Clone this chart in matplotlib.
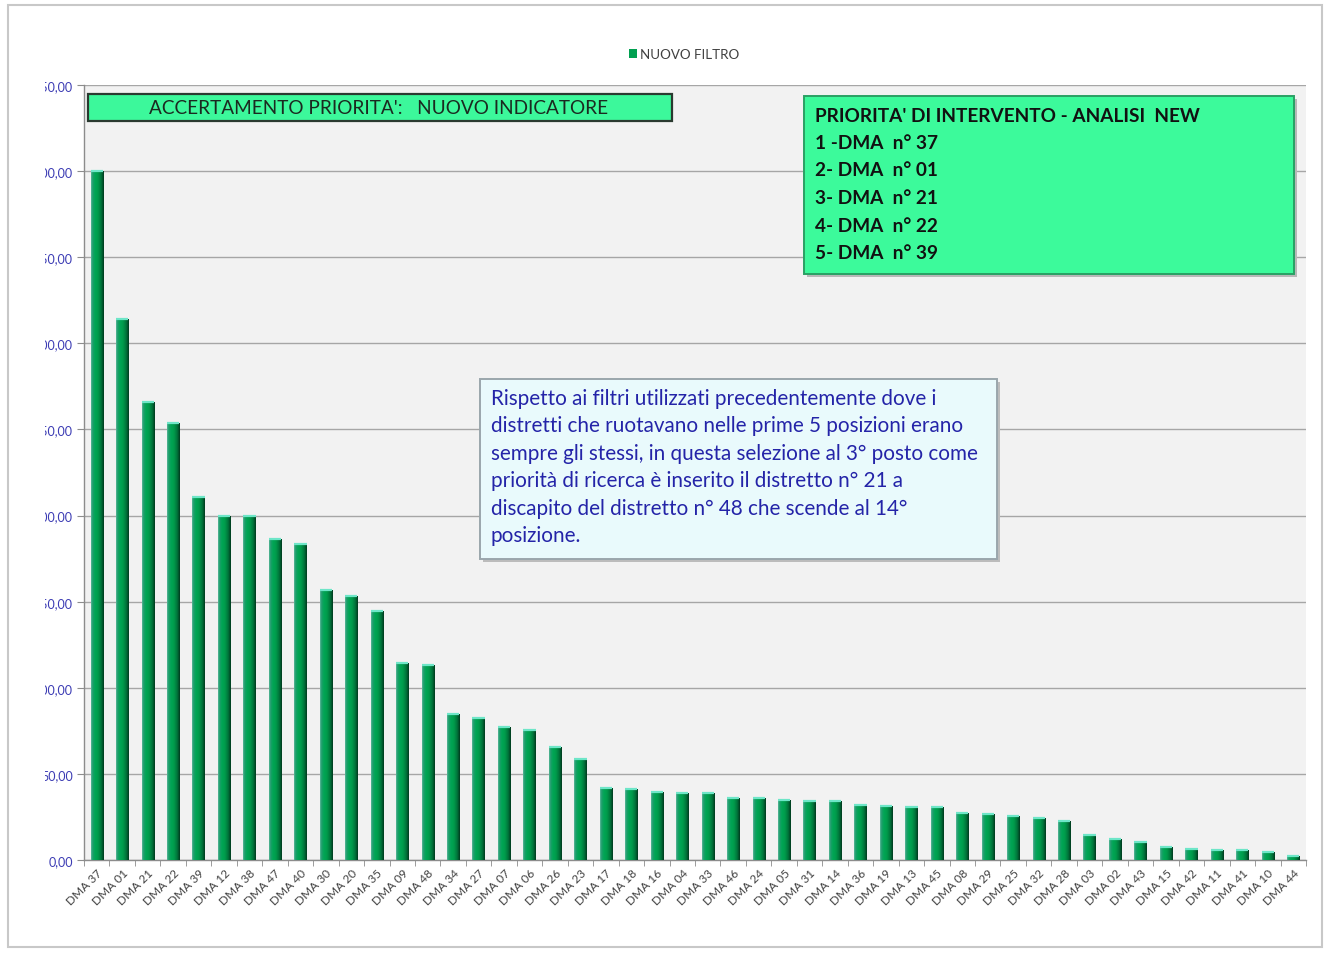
import numpy as np
import matplotlib
matplotlib.use("Agg")
import matplotlib.pyplot as plt
from matplotlib.patches import Rectangle
from matplotlib.colors import LinearSegmentedColormap
from matplotlib.transforms import Bbox

# ---- data -------------------------------------------------------------
districts = ["DMA 37", "DMA 01", "DMA 21", "DMA 22", "DMA 39", "DMA 12", "DMA 38", "DMA 47",
             "DMA 40", "DMA 30", "DMA 20", "DMA 35", "DMA 09", "DMA 48", "DMA 34", "DMA 27",
             "DMA 07", "DMA 06", "DMA 26", "DMA 23", "DMA 17", "DMA 18", "DMA 16", "DMA 04",
             "DMA 33", "DMA 46", "DMA 24", "DMA 05", "DMA 31", "DMA 14", "DMA 36", "DMA 19",
             "DMA 13", "DMA 45", "DMA 08", "DMA 29", "DMA 25", "DMA 32", "DMA 28", "DMA 03",
             "DMA 02", "DMA 43", "DMA 15", "DMA 42", "DMA 11", "DMA 41", "DMA 10", "DMA 44"]
nuovo_filtro = [400.0, 314.0, 266.0, 253.5, 211.0, 200.0, 200.0, 186.5,
                183.5, 157.0, 153.5, 144.5, 114.5, 113.0, 85.0, 82.5,
                77.0, 75.5, 65.5, 58.5, 41.8, 41.0, 39.6, 39.0,
                39.0, 36.0, 36.0, 34.7, 34.2, 34.2, 31.9, 31.3,
                30.6, 30.6, 27.2, 26.6, 25.5, 24.4, 22.6, 14.7,
                12.1, 10.6, 7.4, 6.2, 5.8, 5.8, 4.6, 2.1]
y_ticks = [0, 50, 100, 150, 200, 250, 300, 350, 400, 450]
series_name = "NUOVO FILTRO"

title_box = "ACCERTAMENTO PRIORITA':   NUOVO INDICATORE"
ranking_lines = ["PRIORITA' DI INTERVENTO - ANALISI  NEW",
                 "1 -DMA  n° 37",
                 "2- DMA  n° 01",
                 "3- DMA  n° 21",
                 "4- DMA  n° 22",
                 "5- DMA  n° 39"]
note_lines = ["Rispetto ai filtri utilizzati precedentemente dove i",
              "distretti che ruotavano nelle prime 5 posizioni erano",
              "sempre gli stessi, in questa selezione al 3° posto come",
              "priorità di ricerca è inserito il distretto n° 21 a",
              "discapito del distretto n° 48 che scende al 14°",
              "posizione."]

# ---- figure -------------------------------------------------------------
W, H = 1328, 954
fig = plt.figure(figsize=(W / 100, H / 100), dpi=100)
fig.patch.set_facecolor("white")
FONT = ["Lato", "DejaVu Sans"]


def fx(x):
    return x / W


def fy(y):
    return 1 - y / H


# outer frame of the chart object
fig.patches.append(Rectangle((fx(8), fy(948)), fx(1322) - fx(8), fy(6) - fy(948),
                             transform=fig.transFigure, fill=False,
                             edgecolor="#c8c8c8", linewidth=1.5, zorder=0))

ax = fig.add_axes([fx(84), fy(861), fx(1306) - fx(84), fy(86) - fy(861)])
ax.set_facecolor("#f2f2f2")

x = np.arange(len(districts))
bar_w = 0.48
bars = ax.bar(x, nuovo_filtro, width=bar_w, color="#00a050", label=series_name,
              zorder=3, linewidth=0)

# cylindrical-looking shading across each bar
shade = LinearSegmentedColormap.from_list(
    "shade", [(0.0, "#5bb89a"), (0.12, "#1f9d6c"), (0.3, "#00a655"),
              (0.55, "#009a4b"), (0.8, "#00723a"), (1.0, "#003a1e")])
grad = np.linspace(0, 1, 64).reshape(1, -1)
for rect in bars:
    x0 = rect.get_x()
    h = rect.get_height()
    im = ax.imshow(grad, cmap=shade, aspect="auto", extent=(x0, x0 + bar_w, 0, h),
                   origin="lower", zorder=4, interpolation="bilinear")
    im.set_clip_path(rect)
# light bevel on bar tops
ax.hlines(nuovo_filtro, x - bar_w / 2, x + bar_w / 2, colors="#6ee6c8",
          linewidth=1.6, zorder=5)

ax.set_xlim(-0.5, len(districts) - 0.5)
ax.set_ylim(0, 450)

# gridlines
ax.set_yticks(y_ticks)
ax.set_yticklabels([f"{v:.2f}".replace(".", ",") for v in y_ticks])
ax.yaxis.grid(True, color="#a6a6a6", linewidth=1.0, zorder=1)
ax.set_axisbelow(True)

# categories
ax.set_xticks(x)
ax.set_xticklabels(districts, rotation=45, ha="right", rotation_mode="anchor",
                   fontsize=8.6, color="#404040", family=FONT)
ax.set_xticks(np.arange(-0.5, len(districts), 1.0), minor=True)
ax.tick_params(axis="x", which="major", length=0, pad=5)
ax.tick_params(axis="x", which="minor", length=4, color="#8c8c8c", direction="out")
ax.tick_params(axis="y", length=5, color="#8c8c8c", labelsize=9,
               labelcolor="#3c3cb4", pad=3)
for lab in ax.get_yticklabels():
    lab.set_family(FONT)

for side in ("top", "right"):
    ax.spines[side].set_visible(False)
for side in ("left", "bottom"):
    ax.spines[side].set_color("#8c8c8c")
    ax.spines[side].set_linewidth(1.0)

# value labels cut by the chart's left margin
clip = Bbox.from_extents(45, 0, W, H)
for tick in ax.yaxis.get_major_ticks():
    tick.label1.set_clip_box(clip)
    tick.label1.set_clip_on(True)

# legend
leg = fig.legend(handles=[Rectangle((0, 0), 1, 1, facecolor="#00a050", edgecolor="none")],
                 labels=[series_name], loc="center", bbox_to_anchor=(fx(684), fy(55)),
                 frameon=False, handlelength=0.65, handleheight=0.65, handletextpad=0.2,
                 prop={"family": FONT, "size": 9.6})
for t in leg.get_texts():
    t.set_color("#404040")


# ---- text boxes ---------------------------------------------------------
def box(x0, y0, x1, y1, face, edge, lw, shadow=None):
    if shadow:
        fig.patches.append(Rectangle((fx(x0 + 3), fy(y1 + 3)), fx(x1) - fx(x0), fy(y0) - fy(y1),
                                     transform=fig.transFigure, facecolor=shadow,
                                     edgecolor="none", zorder=6))
    fig.patches.append(Rectangle((fx(x0), fy(y1)), fx(x1) - fx(x0), fy(y0) - fy(y1),
                                 transform=fig.transFigure, facecolor=face,
                                 edgecolor=edge, linewidth=lw, zorder=7))


box(88, 95, 672, 122, "#3cf89b", "#2a3a30", 1.6)
fig.text(fx(379), fy(108.5), title_box, ha="center", va="center", fontsize=13.7,
         color="#1b2a20", family=FONT, zorder=8)

box(804, 97, 1294, 275, "#3cfa9b", "#2aa064", 1.4, shadow="#b8b8b8")
for i, line in enumerate(ranking_lines):
    fig.text(fx(815), fy(116 + i * 27.5), line, ha="left", va="center", fontsize=13.7,
             color="#111111", fontweight="bold", family=FONT, zorder=8)

box(480, 380, 997, 560, "#e9fafc", "#9aa6ac", 1.4, shadow="#bcbcbc")
for i, line in enumerate(note_lines):
    fig.text(fx(491), fy(399 + i * 27.4), line, ha="left", va="center", fontsize=14.9,
             color="#2424a8", family=FONT, zorder=8)

fig.savefig("out.png", dpi=100, facecolor="white")
